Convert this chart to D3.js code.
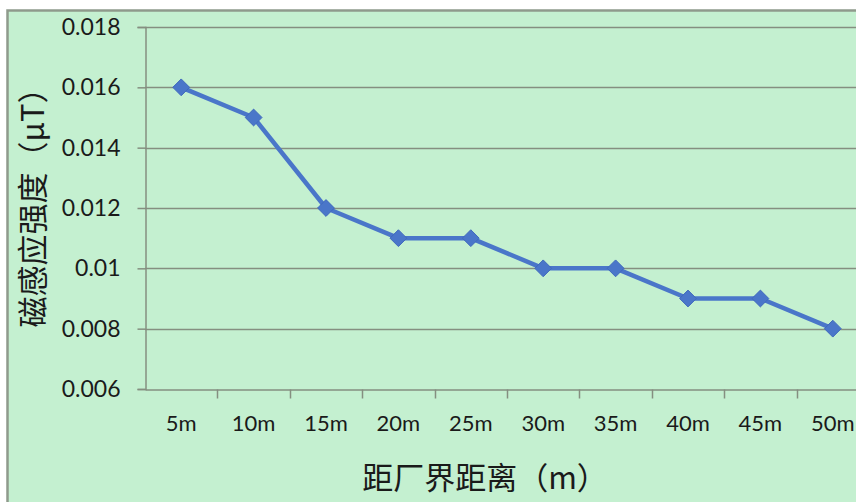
<!DOCTYPE html>
<html>
<head>
<meta charset="utf-8">
<script src="https://cdn.jsdelivr.net/npm/d3@7"></script>
<style>
  html, body { margin: 0; padding: 0; background: #ffffff; }
  svg { display: block; }
</style>
</head>
<body>
<svg id="chart" width="856" height="502"></svg>
<script>
// Distance from the plant boundary and the measured magnetic induction
const categories = ["5m", "10m", "15m", "20m", "25m", "30m", "35m", "40m", "45m", "50m"];
const values = [0.016, 0.015, 0.012, 0.011, 0.011, 0.010, 0.010, 0.009, 0.009, 0.008];
const yTicks = [0.006, 0.008, 0.01, 0.012, 0.014, 0.016, 0.018];
const yTickLabels = ["0.006", "0.008", "0.01", "0.012", "0.014", "0.016", "0.018"];
const xTitle = "距厂界距离（m）";
const yTitle = "磁感应强度（μT）";

const svg = d3.select("#chart");
const W = 856, H = 502;

const plot = { left: 145, right: 869, top: 27, bottom: 389 };

// chart background with frame
svg.append("rect")
  .attr("x", 7.5).attr("y", 10.5)
  .attr("width", W + 20).attr("height", H + 20)
  .attr("fill", "#c4f0d0")
  .attr("stroke", "#8f9a8c")
  .attr("stroke-width", 2.5);

const x = d3.scaleBand().domain(categories).range([plot.left, plot.right]);
const y = d3.scaleLinear().domain([0.006, 0.018]).range([plot.bottom, plot.top]);

const latin = "Lato, 'Open Sans', 'Liberation Sans', sans-serif";
const cjk = "'Noto Sans CJK SC', sans-serif";
const gridColor = "#858f80";

// horizontal gridlines
svg.append("g")
  .selectAll("line")
  .data(yTicks.slice(1))
  .join("line")
  .attr("x1", plot.left).attr("x2", plot.right)
  .attr("y1", d => Math.round(y(d)) + 0.5).attr("y2", d => Math.round(y(d)) + 0.5)
  .attr("stroke", gridColor).attr("stroke-width", 1.5);

// y axis
const yAxis = d3.axisLeft(y)
  .tickValues(yTicks)
  .tickFormat((d, i) => yTickLabels[i])
  .tickSize(8)
  .tickPadding(17);
const gy = svg.append("g")
  .attr("transform", `translate(${plot.left + 0.5},0)`)
  .call(yAxis);
gy.attr("font-size", null).attr("font-family", null);
gy.select(".domain").attr("stroke", gridColor).attr("stroke-width", 1.5);
gy.selectAll(".tick line").attr("stroke", gridColor).attr("stroke-width", 1.5);
gy.selectAll(".tick text")
  .attr("fill", "#1a1a1a")
  .style("font-family", latin)
  .style("font-size", "23px");

// x axis: ticks on band boundaries
const xAxis = d3.axisBottom(x).tickSize(0).tickPadding(26);
const gx = svg.append("g")
  .attr("transform", `translate(0,${plot.bottom + 0.5})`)
  .call(xAxis);
gx.attr("font-size", null).attr("font-family", null);
gx.select(".domain").attr("stroke", gridColor).attr("stroke-width", 1.5);
gx.selectAll(".tick text")
  .attr("fill", "#1a1a1a")
  .style("font-family", latin)
  .style("font-size", "22px");
gx.append("g")
  .selectAll("line")
  .data(categories.slice(1))
  .join("line")
  .attr("x1", d => Math.round(x(d)) + 0.5).attr("x2", d => Math.round(x(d)) + 0.5)
  .attr("y1", 0).attr("y2", 9)
  .attr("stroke", gridColor).attr("stroke-width", 1.5);

// data line
const cx = d => x(d) + x.bandwidth() / 2;
const line = d3.line()
  .x((d, i) => cx(categories[i]))
  .y(d => y(d));
svg.append("path")
  .datum(values)
  .attr("d", line)
  .attr("fill", "none")
  .attr("stroke", "#4a76c9")
  .attr("stroke-width", 4.5)
  .attr("stroke-linejoin", "round");

// diamond markers
const diamond = d3.symbol().type(d3.symbolDiamond2).size(180);
svg.append("g")
  .selectAll("path")
  .data(values)
  .join("path")
  .attr("transform", (d, i) => `translate(${cx(categories[i])},${y(d)})`)
  .attr("d", diamond)
  .attr("fill", "#4a76c9")
  .attr("stroke", "#4069bd")
  .attr("stroke-width", 1);

// axis titles
svg.append("text")
  .attr("x", 485).attr("y", 489)
  .attr("text-anchor", "middle")
  .attr("fill", "#1a1a1a")
  .style("font-family", cjk)
  .style("font-size", "31px")
  .text(xTitle);

svg.append("text")
  .attr("transform", "translate(44,200) rotate(-90)")
  .attr("text-anchor", "middle")
  .attr("fill", "#1a1a1a")
  .style("font-family", cjk)
  .style("font-size", "31px")
  .text(yTitle);
</script>
</body>
</html>
